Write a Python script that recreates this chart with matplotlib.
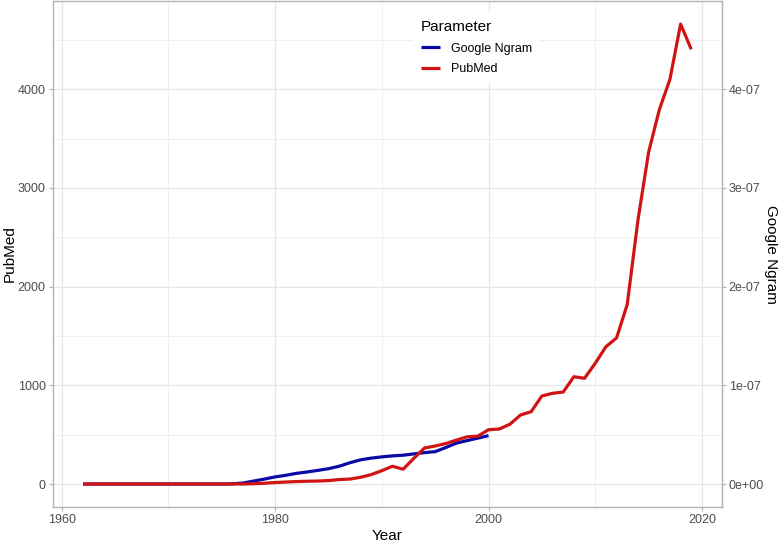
import numpy as np
import matplotlib.pyplot as plt
import matplotlib as mpl
from matplotlib.ticker import FuncFormatter

mpl.rcParams['font.family'] = ['Liberation Sans', 'DejaVu Sans']

# data
pubmed_years = list(range(1962, 2020))
pubmed = [0] * 16 + [3, 8, 15, 20, 25, 28, 30, 35, 45, 50, 68, 95, 135, 180, 150,
                     260, 365, 385, 410, 445, 478, 485, 550, 557, 605, 699, 733,
                     892, 919, 932, 1087, 1071, 1223, 1391, 1480, 1820, 2670,
                     3360, 3790, 4100, 4660, 4404]

ngram_years = list(range(1962, 2001))
ngram = [0] * 14 + [0.2e-9, 1.0e-9, 3.0e-9, 5.0e-9, 7.2e-9, 8.8e-9, 10.8e-9,
                    12.2e-9, 13.8e-9, 15.5e-9, 18.0e-9, 21.5e-9, 24.5e-9,
                    26.2e-9, 27.5e-9, 28.5e-9, 29.2e-9, 30.5e-9, 31.8e-9,
                    32.8e-9, 37.0e-9, 41.5e-9, 44.0e-9, 46.5e-9, 49.0e-9]

scale = 1e10  # Google Ngram 1e-07 <-> PubMed 1000

grid_col = '#e6e6e6'
border_col = '#b3b3b3'
text_col = '#4d4d4d'

fig = plt.figure(figsize=(7.78, 5.44), dpi=100)
ax = fig.add_axes([0.0676, 0.068, 0.86, 0.93])

ax.plot(ngram_years, np.array(ngram) * scale, color='#0a0aa6', lw=2.3,
        label='Google Ngram', solid_capstyle='butt')
ax.plot(pubmed_years, pubmed, color='#d01414', lw=2.3, label='PubMed',
        solid_capstyle='butt')

ax.set_xlim(1959.15, 2021.85)
ax.set_ylim(-233, 4893)

ax.set_xticks([1960, 1980, 2000, 2020])
ax.set_xticks([1970, 1990, 2010], minor=True)
ax.set_yticks([0, 1000, 2000, 3000, 4000])
ax.set_yticks([500, 1500, 2500, 3500, 4500], minor=True)
ax.grid(which='major', color=grid_col, lw=0.9)
ax.grid(which='minor', color='#efefef', lw=0.7)
ax.set_axisbelow(True)

for s in ax.spines.values():
    s.set_color(border_col)
    s.set_linewidth(1.0)

ax.tick_params(which='major', length=3, color=border_col, labelsize=9,
               labelcolor=text_col, pad=2)
ax.tick_params(which='minor', length=0)

# axis titles, centred on the panel
label_y = 1 - 254 / 544
ax.set_xlabel('Year', fontsize=11, labelpad=2)
fig.text(10 / 778, label_y, 'PubMed', fontsize=11, rotation=90,
         ha='center', va='center')

# secondary axis for Google Ngram
ax2 = ax.secondary_yaxis('right', functions=(lambda v: v / scale, lambda v: v * scale))
ax2.set_yticks([0, 1e-7, 2e-7, 3e-7, 4e-7])
ax2.yaxis.set_major_formatter(FuncFormatter(lambda v, p: '%.0e' % v))
ax2.tick_params(length=3, color=border_col, labelsize=9, labelcolor=text_col, pad=2)
ax2.spines['right'].set_color(border_col)
fig.text(771 / 778, label_y, 'Google Ngram', fontsize=11, rotation=-90,
         ha='center', va='center')

leg = ax.legend(title='Parameter', loc='upper left', bbox_to_anchor=(0.53, 0.99),
                frameon=True, fontsize=9, title_fontsize=11, handlelength=1.5,
                handletextpad=0.9, labelspacing=0.7, borderpad=0.6)
leg.get_frame().set_edgecolor('none')
leg.get_frame().set_facecolor('white')
leg.get_frame().set_alpha(1)
leg._legend_box.align = 'left'

fig.savefig('out.png', dpi=100)
